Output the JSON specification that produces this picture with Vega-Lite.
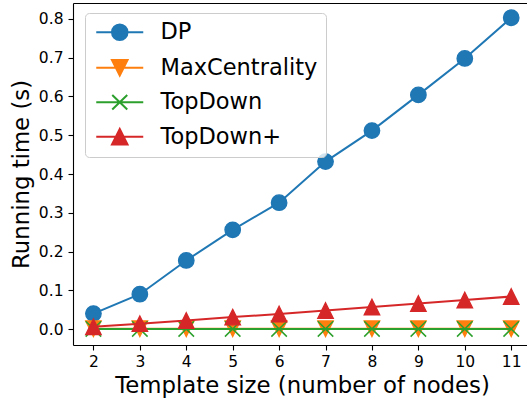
{
  "$schema": "https://vega.github.io/schema/vega-lite/v6.json",
  "width": 454,
  "height": 342,
  "autosize": {"type": "none"},
  "padding": {"left": 73, "top": 3, "right": 0, "bottom": 60},
  "background": "white",
  "config": {
    "view": {"stroke": null},
    "font": "DejaVu Sans",
    "axis": {"grid": false, "domainColor": "black", "domainWidth": 1.1, "tickColor": "black", "tickWidth": 1.1, "tickSize": 5, "labelColor": "black", "labelFont": "DejaVu Sans", "labelFontSize": 15.5, "titleFont": "DejaVu Sans", "titleFontSize": 22.8, "titleFontWeight": "normal", "titleColor": "black"},
    "legend": {"labelFont": "DejaVu Sans", "labelFontSize": 22.5, "labelColor": "black", "symbolSize": 256, "labelOffset": 45}
  },
  "data": {"values": [
    {"n": 2, "series": "DP", "t": 0.040}, {"n": 3, "series": "DP", "t": 0.090}, {"n": 4, "series": "DP", "t": 0.177}, {"n": 5, "series": "DP", "t": 0.256}, {"n": 6, "series": "DP", "t": 0.326}, {"n": 7, "series": "DP", "t": 0.432}, {"n": 8, "series": "DP", "t": 0.512}, {"n": 9, "series": "DP", "t": 0.604}, {"n": 10, "series": "DP", "t": 0.698}, {"n": 11, "series": "DP", "t": 0.803},
    {"n": 2, "series": "MaxCentrality", "t": 0.001}, {"n": 3, "series": "MaxCentrality", "t": 0.001}, {"n": 4, "series": "MaxCentrality", "t": 0.001}, {"n": 5, "series": "MaxCentrality", "t": 0.001}, {"n": 6, "series": "MaxCentrality", "t": 0.001}, {"n": 7, "series": "MaxCentrality", "t": 0.001}, {"n": 8, "series": "MaxCentrality", "t": 0.001}, {"n": 9, "series": "MaxCentrality", "t": 0.001}, {"n": 10, "series": "MaxCentrality", "t": 0.001}, {"n": 11, "series": "MaxCentrality", "t": 0.001},
    {"n": 2, "series": "TopDown", "t": 0.0005}, {"n": 3, "series": "TopDown", "t": 0.0005}, {"n": 4, "series": "TopDown", "t": 0.0005}, {"n": 5, "series": "TopDown", "t": 0.0005}, {"n": 6, "series": "TopDown", "t": 0.0005}, {"n": 7, "series": "TopDown", "t": 0.0005}, {"n": 8, "series": "TopDown", "t": 0.0005}, {"n": 9, "series": "TopDown", "t": 0.0005}, {"n": 10, "series": "TopDown", "t": 0.0005}, {"n": 11, "series": "TopDown", "t": 0.0005},
    {"n": 2, "series": "TopDown+", "t": 0.006}, {"n": 3, "series": "TopDown+", "t": 0.014}, {"n": 4, "series": "TopDown+", "t": 0.022}, {"n": 5, "series": "TopDown+", "t": 0.031}, {"n": 6, "series": "TopDown+", "t": 0.039}, {"n": 7, "series": "TopDown+", "t": 0.048}, {"n": 8, "series": "TopDown+", "t": 0.057}, {"n": 9, "series": "TopDown+", "t": 0.066}, {"n": 10, "series": "TopDown+", "t": 0.075}, {"n": 11, "series": "TopDown+", "t": 0.084}
  ]},
  "encoding": {
    "x": {"field": "n", "type": "quantitative", "scale": {"domain": [1.56, 11.34], "nice": false, "zero": false}, "axis": null},
    "y": {"field": "t", "type": "quantitative", "scale": {"domain": [-0.041, 0.841], "nice": false, "zero": false},
      "axis": {"title": "Running time (s)", "values": [0, 0.1, 0.2, 0.3, 0.4, 0.5, 0.6, 0.7, 0.8], "format": ".1f", "labelPadding": 5, "titleAngle": -90, "titleX": -45, "titleY": 171, "titleAlign": "center", "titleBaseline": "alphabetic"}},
    "color": {"field": "series", "type": "nominal", "scale": {"domain": ["DP", "MaxCentrality", "TopDown", "TopDown+"], "range": ["#1f77b4", "#ff7f0e", "#2ca02c", "#d62728"]},
      "legend": {"title": null, "orient": "none", "legendX": 12, "legendY": 10, "padding": 8, "rowPadding": 10.5, "strokeColor": "#cccccc", "fillColor": "rgba(255,255,255,0.8)", "cornerRadius": 4,
        "encode": {"symbols": {"update": {
          "shape": {"signal": "datum.value === 'DP' ? 'M-1,0L4.875,0M2.9125,0A0.975,0.975,0,1,1,0.9625,0A0.975,0.975,0,1,1,2.9125,0Z' : datum.value === 'MaxCentrality' ? 'M-1,0L4.875,0M0.9625,-0.975L2.9125,-0.975L1.9375,0.975Z' : datum.value === 'TopDown' ? 'M-1,0L4.875,0M1,-0.9L2.875,0.9M1,0.9L2.875,-0.9' : 'M-1,0L4.875,0M1.9375,-0.975L2.9125,0.975L0.9625,0.975Z'"},
          "fill": {"scale": "color", "field": "value"},
          "stroke": {"scale": "color", "field": "value"},
          "strokeWidth": {"value": 2},
          "size": {"value": 256},
          "opacity": {"value": 1}
        }}}}}
  },
  "resolve": {"axis": {"x": "independent"}},
  "layer": [
    {"transform": [{"filter": "datum.series === 'DP'"}], "mark": {"type": "line", "strokeWidth": 2},
      "encoding": {"x": {"field": "n", "type": "quantitative", "scale": {"domain": [1.56, 11.34], "nice": false, "zero": false},
        "axis": {"title": "Template size (number of nodes)", "values": [2, 3, 4, 5, 6, 7, 8, 9, 10, 11], "labelPadding": 4, "titleX": 229, "titleY": 47, "titleAlign": "center", "titleBaseline": "alphabetic"}}}},
    {"transform": [{"filter": "datum.series === 'DP'"}], "mark": {"type": "point", "filled": true, "size": 240, "strokeWidth": 1.3, "opacity": 1, "shape": "circle", "stroke": {"expr": "scale('color', datum.series)"}},
      "encoding": {"x": {"field": "n", "type": "quantitative", "scale": {"domain": [1.56, 11.34], "nice": false, "zero": false},
        "axis": {"orient": "top", "labels": false, "ticks": false, "title": null, "domain": true}}}},
    {"transform": [{"filter": "datum.series === 'MaxCentrality'"}], "mark": {"type": "line", "strokeWidth": 2}},
    {"transform": [{"filter": "datum.series === 'MaxCentrality'"}], "mark": {"type": "point", "filled": true, "size": 240, "strokeWidth": 1.3, "opacity": 1, "shape": "M-1,-1L1,-1L0,1Z", "stroke": {"expr": "scale('color', datum.series)"}}},
    {"transform": [{"filter": "datum.series === 'TopDown'"}], "mark": {"type": "line", "strokeWidth": 2}},
    {"transform": [{"filter": "datum.series === 'TopDown'"}], "mark": {"type": "point", "filled": true, "size": 240, "strokeWidth": 1.5, "opacity": 1, "shape": "M-1,-1L1,1M-1,1L1,-1", "stroke": {"expr": "scale('color', datum.series)"}}},
    {"transform": [{"filter": "datum.series === 'TopDown+'"}], "mark": {"type": "line", "strokeWidth": 2}},
    {"transform": [{"filter": "datum.series === 'TopDown+'"}], "mark": {"type": "point", "filled": true, "size": 240, "strokeWidth": 1.3, "opacity": 1, "shape": "M0,-1L1,1L-1,1Z", "stroke": {"expr": "scale('color', datum.series)"}}}
  ]
}
